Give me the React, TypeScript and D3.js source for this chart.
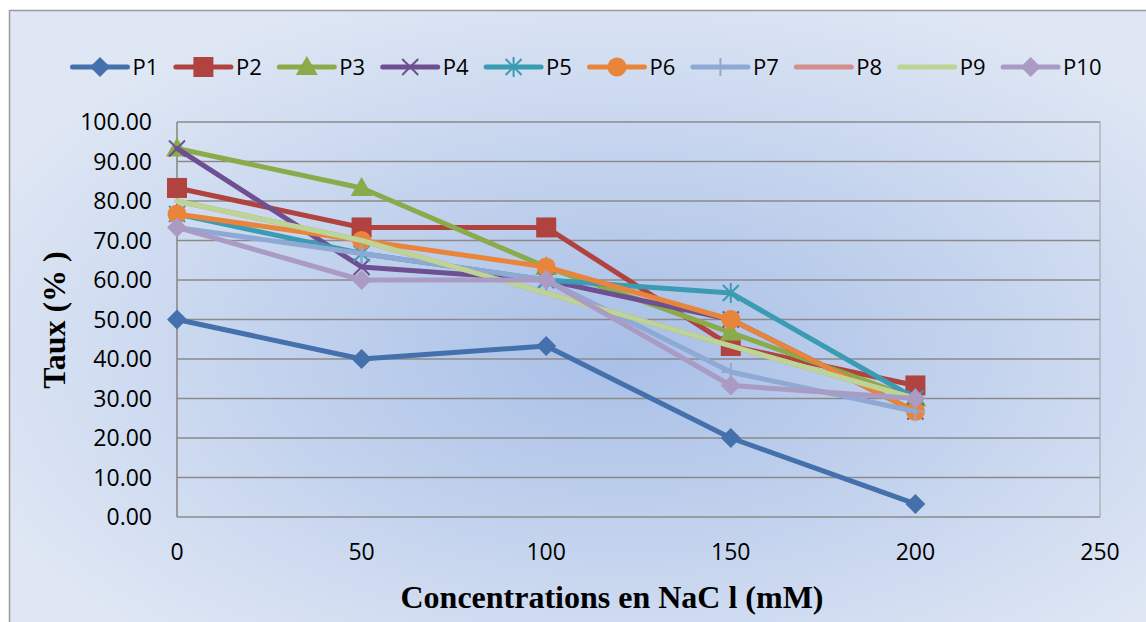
import React from "react";
import * as d3 from "d3";

const concentrations = [0, 50, 100, 150, 200];
const xTicks = [0, 50, 100, 150, 200, 250];
const yTicks = [0, 10, 20, 30, 40, 50, 60, 70, 80, 90, 100];

const seriesNames = ["P1", "P2", "P3", "P4", "P5", "P6", "P7", "P8", "P9", "P10"];
const P1 = [50, 40, 43.3, 20, 3.3];
const P2 = [83.3, 73.3, 73.3, 43.3, 33.3];
const P3 = [93.3, 83.3, 63.3, 46.7, 30];
const P4 = [93.3, 63.3, 60, 50, 26.7];
const P5 = [76.7, 66.7, 60, 56.7, 30];
const P6 = [76.7, 70, 63.3, 50, 26.7];
const P7 = [73.3, 66.7, 60, 36.7, 26.7];
const P8 = [80, 70, 56.7, 43.3, 30];
const P9 = [80, 70, 56.7, 43.3, 30];
const P10 = [73.3, 60, 60, 33.3, 30];
const seriesValues = [P1, P2, P3, P4, P5, P6, P7, P8, P9, P10];

const colors = ["#4470ab", "#b0433f", "#8bab4b", "#6e5092", "#3b9bb3", "#e8853b", "#8fa9d5", "#d48e8c", "#bcd494", "#aa9bc5"];
const markers = ["diamond", "square", "triangle", "x", "asterisk", "circle", "plus", "none", "none", "diamond"];

const W = 1146, H = 622;
const left = 177, right = 1100, top = 122, bottom = 517;

function Marker({ type, x, y, color }: { type: string; x: number; y: number; color: string }) {
  const s = 10;
  switch (type) {
    case "diamond":
      return <path d={`M${x},${y - s} L${x + s},${y} L${x},${y + s} L${x - s},${y} Z`} fill={color} />;
    case "square":
      return <rect x={x - 10} y={y - 10} width={20} height={20} fill={color} />;
    case "triangle":
      return <path d={`M${x},${y - 11} L${x + 11},${y + 8} L${x - 11},${y + 8} Z`} fill={color} />;
    case "circle":
      return <circle cx={x} cy={y} r={9.5} fill={color} />;
    case "x":
      return (
        <path d={`M${x - 8},${y - 8} L${x + 8},${y + 8} M${x - 8},${y + 8} L${x + 8},${y - 8}`} stroke={color} strokeWidth={2} />
      );
    case "asterisk":
      return (
        <path
          d={`M${x - 8},${y - 8} L${x + 8},${y + 8} M${x - 8},${y + 8} L${x + 8},${y - 8} M${x},${y - 10} L${x},${y + 10}`}
          stroke={color}
          strokeWidth={2}
        />
      );
    case "plus":
      return <path d={`M${x - 9},${y} L${x + 9},${y} M${x},${y - 9} L${x},${y + 9}`} stroke={color} strokeWidth={2} />;
    default:
      return null;
  }
}

export default function App() {
  const x = d3.scaleLinear().domain([0, 250]).range([left, right]);
  const y = d3.scaleLinear().domain([0, 100]).range([bottom, top]);
  const line = d3
    .line<number>()
    .x((_, i) => x(concentrations[i]))
    .y((d) => y(d));

  const legendStart = 72.5;
  const legendStep = 103.4;
  const legendY = 67;

  return (
    <svg width={W} height={H} style={{ position: "absolute", left: 0, top: 0 }}>
      <defs>
        <radialGradient id="bg" cx="54%" cy="55%" r="62%">
          <stop offset="0%" stopColor="#a8bfe7" />
          <stop offset="100%" stopColor="#dfe7f4" />
        </radialGradient>
      </defs>
      <rect x={9.5} y={10.5} width={W - 8} height={H} fill="url(#bg)" stroke="#9a9a9a" strokeWidth={1.5} />

      {/* gridlines */}
      {yTicks.map((t) => (
        <line key={t} x1={left} x2={right} y1={y(t)} y2={y(t)} stroke="#8a8a8a" strokeWidth={1.6} />
      ))}
      <line x1={left} x2={left} y1={top} y2={bottom} stroke="#8a8a8a" strokeWidth={1.6} />
      <line x1={right} x2={right} y1={top} y2={bottom} stroke="#a0a0a0" strokeWidth={1} />

      {/* y tick labels */}
      {yTicks.map((t) => (
        <text key={t} x={152} y={y(t) + 8} textAnchor="end" fontFamily="'Open Sans'" fontSize={23} fill="#000">
          {t.toFixed(2)}
        </text>
      ))}
      {/* x tick labels */}
      {xTicks.map((t) => (
        <text key={t} x={x(t)} y={560} textAnchor="middle" fontFamily="'Open Sans'" fontSize={23} fill="#000">
          {t}
        </text>
      ))}

      {/* series */}
      {seriesValues.map((vals, si) => (
        <g key={si}>
          <path d={line(vals) || ""} fill="none" stroke={colors[si]} strokeWidth={5} strokeLinejoin="round" strokeLinecap="round" />
          {vals.map((v, i) => (
            <Marker key={i} type={markers[si]} x={x(concentrations[i])} y={y(v)} color={colors[si]} />
          ))}
        </g>
      ))}

      {/* legend */}
      {seriesNames.map((n, i) => {
        const lx = legendStart + i * legendStep;
        return (
          <g key={n}>
            <line x1={lx} x2={lx + 55} y1={legendY} y2={legendY} stroke={colors[i]} strokeWidth={5} strokeLinecap="round" />
            <Marker type={markers[i]} x={lx + 27.5} y={legendY} color={colors[i]} />
            <text x={lx + 60} y={legendY + 8} fontFamily="'Open Sans'" fontSize={22} fill="#000">
              {n}
            </text>
          </g>
        );
      })}

      {/* axis titles */}
      <text
        x={612}
        y={608}
        textAnchor="middle"
        fontFamily="'Liberation Serif', 'Times New Roman', serif"
        fontWeight="bold"
        fontSize={32}
        fill="#000"
      >
        Concentrations en NaC l (mM)
      </text>
      <text
        transform="translate(65,320) rotate(-90)"
        textAnchor="middle"
        fontFamily="'Liberation Serif', 'Times New Roman', serif"
        fontWeight="bold"
        fontSize={32}
        fill="#000"
      >
        Taux (% )
      </text>
    </svg>
  );
}
